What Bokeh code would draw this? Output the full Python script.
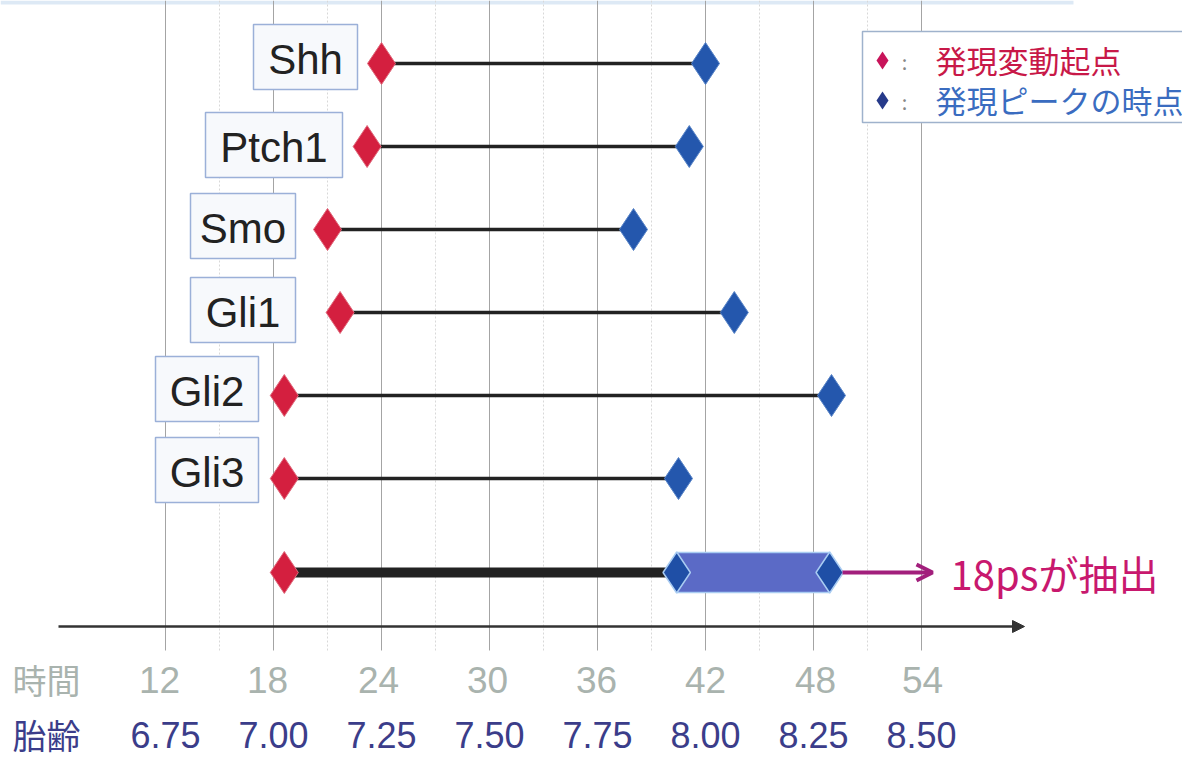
from bokeh.plotting import figure
from bokeh.models import Range1d, Arrow, NormalHead, OpenHead
from bokeh.core.properties import value
from bokeh.embed import file_html
from bokeh.resources import INLINE

# ---------------- data ----------------
genes = ["Shh", "Ptch1", "Smo", "Gli1", "Gli2", "Gli3"]
onset_h = [24.0, 23.2, 21.0, 21.7, 18.6, 18.6]      # 発現変動起点 (hours)
peak_h = [42.0, 41.1, 38.0, 43.6, 49.0, 40.5]       # 発現ピークの時点 (hours)
summary_onset = 18.6
summary_peak_lo = 40.4
summary_peak_hi = 48.9
hour_ticks = [12, 18, 24, 30, 36, 42, 48, 54]
minor_ticks = [15, 21, 27, 33, 39, 45, 51]
hour_labels = ["12", "18", "24", "30", "36", "42", "48", "54"]
age_labels = ["6.75", "7.00", "7.25", "7.50", "7.75", "8.00", "8.25", "8.50"]
row_titles = ["時間", "胎齢"]
legend_labels = ["発現変動起点", "発現ピークの時点"]
extract_label = "18psが抽出"

# ---------------- layout ----------------
W, H = 1182, 765
def hx(px):  # pixel -> hour
    return 12 + (px - 165) / 18.0
def ry(py):  # pixel -> row
    return (py - 63) / 83.0

box_l = [253, 205, 190, 190, 155, 155]
box_r = [357, 342, 295, 295, 258, 258]
box_t = [24, 112, 193, 277, 356, 437]
box_h = 65
rows = list(range(len(genes)))
sum_row = ry(572)
label_shift_px = [-6, -6, -3, -2, -1, 0, 2, 1]

JP = value("Noto Sans CJK JP")
SANS = value("Liberation Sans")

RED = "#d41f3f"
BLUE = "#2457ad"

p = figure(width=W, height=H, x_range=Range1d(hx(0), hx(W)),
           y_range=Range1d(ry(H), ry(0)), min_border=0,
           toolbar_location=None, output_backend="svg",
           x_axis_location=None, y_axis_location=None)
p.grid.visible = False
p.outline_line_color = None
p.background_fill_color = "white"
p.border_fill_color = "white"

# top light band
p.quad(left=[hx(0)], right=[hx(1073)], top=[ry(0)], bottom=[ry(4)],
       fill_color="#dde9f5", line_color=None)

# grid lines
p.segment(x0=minor_ticks, x1=minor_ticks, y0=[ry(0)] * len(minor_ticks),
          y1=[ry(650)] * len(minor_ticks), line_color="#d8d8d8",
          line_width=1, line_dash="2 2")
p.segment(x0=hour_ticks, x1=hour_ticks, y0=[ry(0)] * len(hour_ticks),
          y1=[ry(650)] * len(hour_ticks), line_color="#a4a4a4", line_width=1)

# gene label boxes
p.quad(left=[hx(v) for v in box_l], right=[hx(v) for v in box_r],
       top=[ry(v) for v in box_t], bottom=[ry(v + box_h) for v in box_t],
       fill_color="#f7f9fc", line_color="#9bb0d8", line_width=1.5)
p.text(x=[hx((l + r) / 2) for l, r in zip(box_l, box_r)],
       y=[ry(t + box_h / 2 + 2) for t in box_t], text=genes,
       text_font=SANS, text_font_size="42px", text_color="#222222",
       text_align="center", text_baseline="middle")

# connecting lines
p.segment(x0=onset_h, x1=peak_h, y0=rows, y1=rows, line_color="#222222",
          line_width=3.5)
p.segment(x0=[summary_onset], x1=[summary_peak_lo], y0=[sum_row], y1=[sum_row],
          line_color="#222222", line_width=10)

# summary box
p.quad(left=[summary_peak_lo], right=[summary_peak_hi],
       top=[sum_row - 20 / 83.0], bottom=[sum_row + 20 / 83.0],
       fill_color="#5b6ac6", line_color="#a9ccf2", line_width=1.5)

# diamonds
p.scatter(x=onset_h, y=rows, marker="diamond", size=42, fill_color=RED,
          line_color="#e06a7c", line_width=1)
p.scatter(x=peak_h, y=rows, marker="diamond", size=42, fill_color=BLUE,
          line_color="#5a86c8", line_width=1)
p.scatter(x=[summary_onset], y=[sum_row], marker="diamond", size=42,
          fill_color=RED, line_color="#e06a7c", line_width=1)
p.scatter(x=[summary_peak_lo, summary_peak_hi], y=[sum_row, sum_row],
          marker="diamond", size=41, fill_color="#1f4fa6",
          line_color="#a9ccf2", line_width=1.5)

# extraction arrow + label
p.add_layout(Arrow(end=OpenHead(size=16, line_color="#a21f7c", line_width=4),
                   x_start=hx(842), y_start=sum_row, x_end=hx(932), y_end=sum_row,
                   line_color="#a21f7c", line_width=4))
p.text(x=[hx(950)], y=[sum_row], text=[extract_label], text_font=JP,
       text_font_size="40px", text_color="#c8186e", text_align="left",
       text_baseline="middle")

# x axis arrow
p.add_layout(Arrow(end=NormalHead(size=12, fill_color="#333333",
                                  line_color="#333333"),
                   x_start=hx(58), y_start=ry(626), x_end=hx(1024), y_end=ry(626),
                   line_color="#333333", line_width=2.5))

# tick labels
p.text(x=[t + s / 18.0 for t, s in zip(hour_ticks, label_shift_px)],
       y=[ry(679)] * len(hour_ticks), text=hour_labels,
       text_font=SANS, text_font_size="37px", text_color="#a9b3ae",
       text_align="center", text_baseline="middle")
p.text(x=hour_ticks, y=[ry(734)] * len(hour_ticks), text=age_labels,
       text_font=SANS, text_font_size="36px", text_color="#3b3d8a",
       text_align="center", text_baseline="middle")
p.text(x=[hx(12)], y=[ry(679)], text=[row_titles[0]], text_font=JP,
       text_font_size="34px", text_color="#a9b3ae", text_align="left",
       text_baseline="middle")
p.text(x=[hx(12)], y=[ry(734)], text=[row_titles[1]], text_font=JP,
       text_font_size="34px", text_color="#3b3d8a", text_align="left",
       text_baseline="middle")

# legend
p.quad(left=[hx(862)], right=[hx(1192)], top=[ry(31)], bottom=[ry(122)],
       fill_color="white", line_color="#9fb2cc", line_width=1.5)
p.scatter(x=[hx(882), hx(882)], y=[ry(60), ry(100)], marker="diamond", size=18,
          fill_color=["#c8145a", "#263a8a"], line_color=None)
p.text(x=[hx(904), hx(904)], y=[ry(61), ry(101)], text=[":", ":"],
       text_font=JP, text_font_size="20px", text_color="#888888",
       text_align="center", text_baseline="middle")
p.text(x=[hx(935), hx(935)], y=[ry(59), ry(99)], text=legend_labels,
       text_font=JP, text_font_size="31px",
       text_color=["#c81848", "#3a6cc0"], text_align="left",
       text_baseline="middle")

open("out.html", "w").write(file_html(p, INLINE))
